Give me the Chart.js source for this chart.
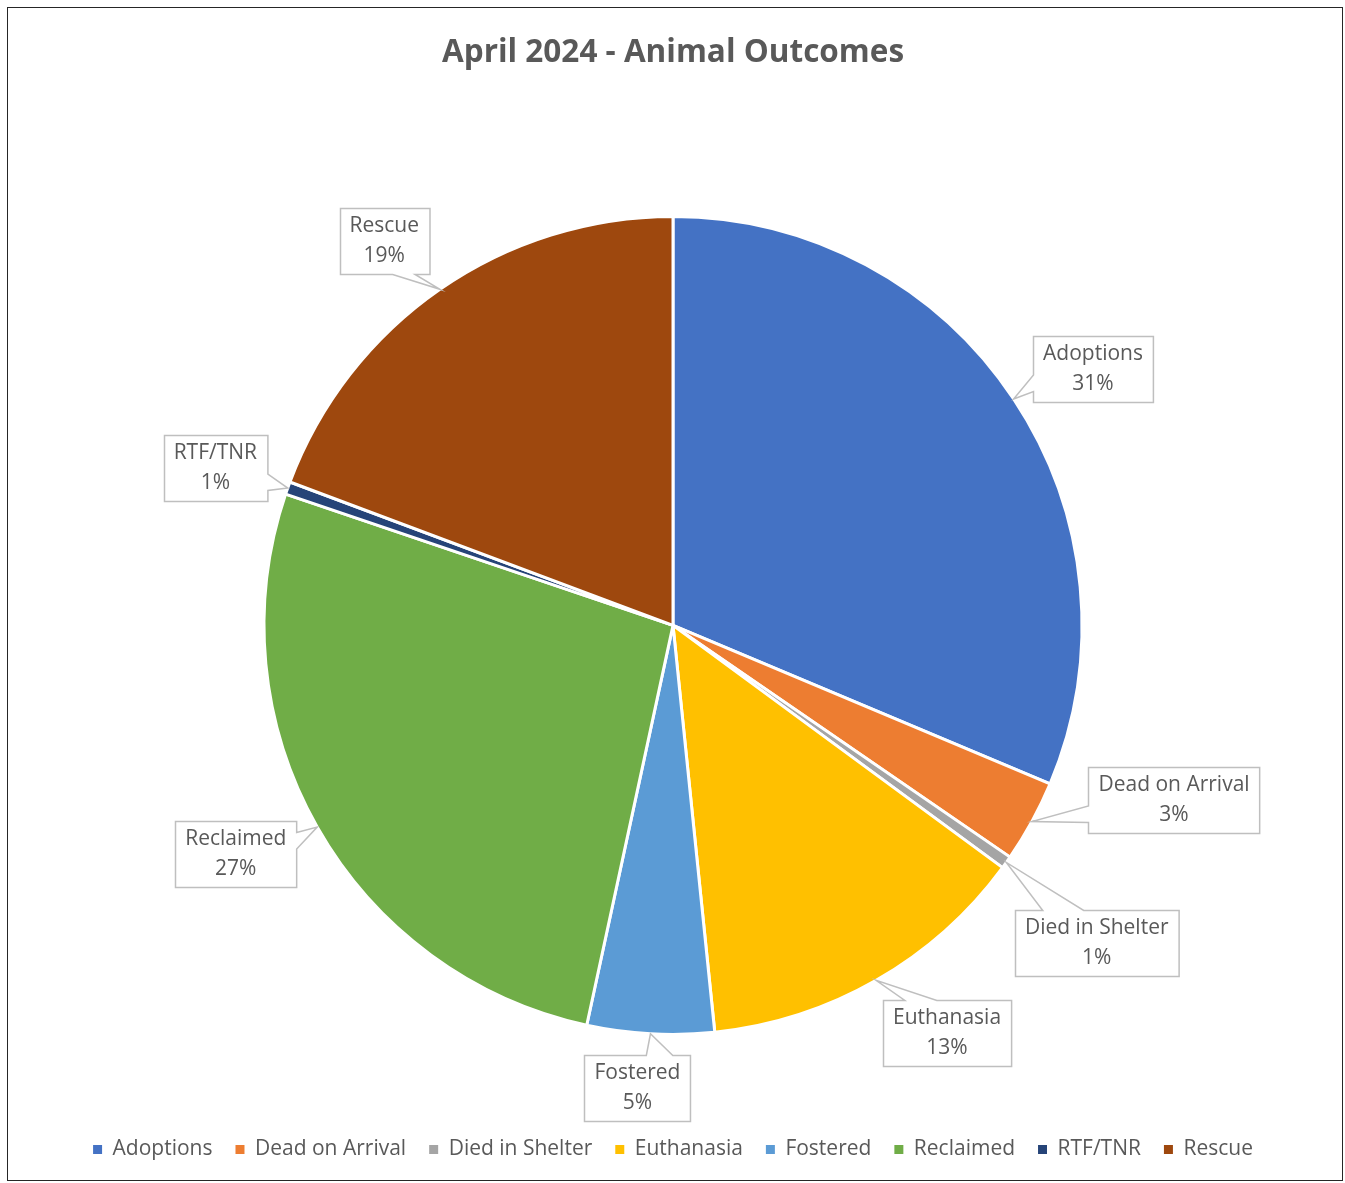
<!DOCTYPE html>
<html>
<head>
<meta charset="utf-8">
<title>April 2024 - Animal Outcomes</title>
<script src="https://cdn.jsdelivr.net/npm/chart.js@4.4.1/dist/chart.umd.min.js"></script>
<style>
    html, body { margin: 0; padding: 0; background: #fff; }
    #wrap { width: 1345px; height: 1183px; }
</style>
</head>
<body>
<div id="wrap"><canvas id="outcomes" width="1345" height="1183"></canvas></div>
<script>
/* Outcome categories and April 2024 counts */
const categories = ['Adoptions', 'Dead on Arrival', 'Died in Shelter', 'Euthanasia', 'Fostered', 'Reclaimed', 'RTF/TNR', 'Rescue'];
const outcomeCounts = [125, 13, 2, 53, 20, 107, 2, 77];
const sliceColors = ['#4472C4', '#ED7D31', '#A5A5A5', '#FFC000', '#5B9BD5', '#70AD47', '#264478', '#9E480E'];

const TEXT_GRAY = '#595959';
const FONT = "'Open Sans', Lato, sans-serif";

/* Callout box centres, in units of the pie radius from the pie centre */
const calloutPlacement = [
    [1.027, -0.627], [1.225, 0.426], [1.036, 0.777], [0.670, 0.996],
    [-0.087, 1.132], [-1.069, 0.558], [-1.119, -0.384], [-0.706, -0.940],
];

/* Excel-style wedge callout: rectangle with a pointer on the side facing the tip */
function calloutPath(ctx, L, T, R, B, tip) {
    const w = R - L, h = B - T, cx = (L + R) / 2, cy = (T + B) / 2;
    const dx = (tip.x - cx) / w, dy = (tip.y - cy) / h;
    let side;
    if (Math.abs(dx) > Math.abs(dy)) side = dx < 0 ? 'left' : 'right';
    else side = dy < 0 ? 'top' : 'bottom';
    const sx = dx < 0 ? -1 : 1, sy = dy < 0 ? -1 : 1;
    const xs = [cx + sx * w / 12, cx + sx * w * 4 / 12].sort((a, b) => a - b);
    const ys = [cy + sy * h / 12, cy + sy * h * 4 / 12].sort((a, b) => a - b);

    ctx.beginPath();
    ctx.moveTo(L, T);
    if (side === 'top') { ctx.lineTo(xs[0], T); ctx.lineTo(tip.x, tip.y); ctx.lineTo(xs[1], T); }
    ctx.lineTo(R, T);
    if (side === 'right') { ctx.lineTo(R, ys[0]); ctx.lineTo(tip.x, tip.y); ctx.lineTo(R, ys[1]); }
    ctx.lineTo(R, B);
    if (side === 'bottom') { ctx.lineTo(xs[1], B); ctx.lineTo(tip.x, tip.y); ctx.lineTo(xs[0], B); }
    ctx.lineTo(L, B);
    if (side === 'left') { ctx.lineTo(L, ys[1]); ctx.lineTo(tip.x, tip.y); ctx.lineTo(L, ys[0]); }
    ctx.closePath();
}

const calloutPlugin = {
    id: 'callouts',
    afterDatasetsDraw(chart, args, opts) {
        const { ctx } = chart;
        const meta = chart.getDatasetMeta(0);
        const values = chart.data.datasets[0].data;
        const total = values.reduce((a, b) => a + b, 0);

        ctx.save();
        ctx.font = opts.font;
        meta.data.forEach((arc, i) => {
            const mid = (arc.startAngle + arc.endAngle) / 2;
            const r = arc.outerRadius;
            const tip = { x: arc.x + Math.cos(mid) * r, y: arc.y + Math.sin(mid) * r };
            const [ox, oy] = opts.placement[i];
            const cx = arc.x + ox * r, cy = arc.y + oy * r;

            const lines = [chart.data.labels[i], Math.round(values[i] / total * 100) + '%'];
            const w = Math.max(...lines.map(t => ctx.measureText(t).width)) + opts.padX * 2;
            const h = opts.lineGap * 2 + opts.padY * 2;
            const L = Math.round(cx - w / 2) + 0.5, T = Math.round(cy - h / 2) + 0.5;

            calloutPath(ctx, L, T, L + w, T + h, tip);
            ctx.fillStyle = '#fff';
            ctx.fill();
            ctx.lineWidth = 1.5;
            ctx.strokeStyle = '#BFBFBF';
            ctx.stroke();

            ctx.fillStyle = TEXT_GRAY;
            ctx.textAlign = 'center';
            ctx.textBaseline = 'middle';
            ctx.fillText(lines[0], cx, cy - opts.lineGap / 2);
            ctx.fillText(lines[1], cx, cy + opts.lineGap / 2);
        });
        ctx.restore();
    },
};

/* Thin frame round the whole chart area */
const framePlugin = {
    id: 'frame',
    afterDraw(chart) {
        const { ctx } = chart;
        ctx.save();
        ctx.strokeStyle = '#262626';
        ctx.lineWidth = 1;
        ctx.strokeRect(7.5, 7.5, chart.width - 10, chart.height - 10);
        ctx.restore();
    },
};

Chart.defaults.font.family = FONT;
Chart.defaults.color = TEXT_GRAY;

new Chart(document.getElementById('outcomes'), {
    type: 'pie',
    data: {
        labels: categories,
        datasets: [{
            data: outcomeCounts,
            backgroundColor: sliceColors,
            borderColor: '#fff',
            borderWidth: 3,
            hoverOffset: 0,
            radius: 409,
        }],
    },
    options: {
        responsive: false,
        animation: false,
        layout: { padding: { top: 0, bottom: 13, left: 1, right: 0 } },
        plugins: {
            title: {
                display: true,
                text: 'April 2024 - Animal Outcomes',
                color: TEXT_GRAY,
                font: { family: FONT, size: 31.5, weight: 'bold', lineHeight: 1.2 },
                padding: { top: 34, bottom: 63 },
            },
            legend: {
                position: 'bottom',
                labels: {
                    color: TEXT_GRAY,
                    font: { family: FONT, size: 21 },
                    boxWidth: 9,
                    boxHeight: 9,
                    padding: 23,
                    generateLabels(chart) {
                        return Chart.overrides.pie.plugins.legend.labels.generateLabels(chart)
                            .map(item => ({ ...item, lineWidth: 0, strokeStyle: item.fillStyle }));
                    },
                },
            },
            tooltip: { enabled: false },
            callouts: {
                placement: calloutPlacement,
                font: `21px ${FONT}`,
                padX: 10,
                padY: 3,
                lineGap: 30,
            },
        },
    },
    plugins: [calloutPlugin, framePlugin],
});
</script>
</body>
</html>
